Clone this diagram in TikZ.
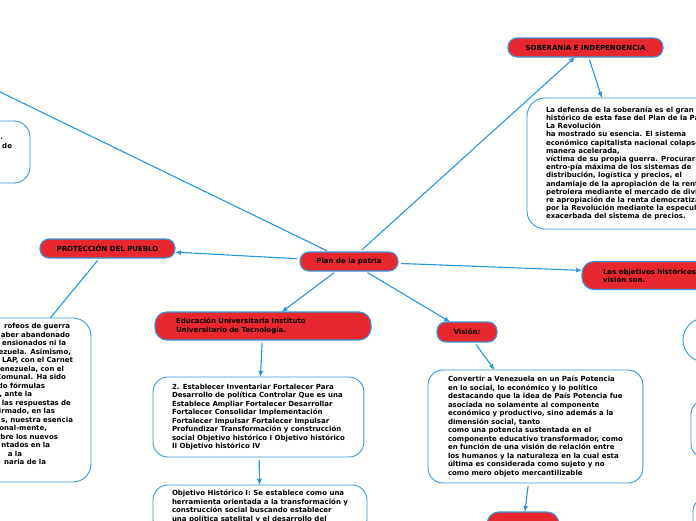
\documentclass[tikz,border=0pt]{standalone}
\usepackage{fontspec}
\setmainfont{DejaVu Sans}
\usetikzlibrary{arrows.meta}
\definecolor{rojo}{RGB}{233,39,47}
\definecolor{azul}{RGB}{52,152,219}
\definecolor{linea}{RGB}{40,150,222}
\newcommand{\gapr}[1]{\rule{#1}{0pt}}
\begin{document}
\begin{tikzpicture}[x=1pt,y=-1pt,
  txt/.style={font=\fontsize{7}{8.5}\selectfont\bfseries, text=black},
  red/.style={draw=azul, line width=1.1pt, fill=rojo, rounded corners=9pt, minimum height=19pt, inner sep=0pt, outer sep=0pt, txt},
  wbox/.style={draw=azul, line width=0.9pt, fill=white, rounded corners=15pt, outer sep=0pt, txt},
  arr/.style={draw=linea, line width=1.1pt, -{Latex[length=6pt,width=5pt]}, shorten <=3pt},
  ln/.style={draw=linea, line width=1.1pt, shorten <=3pt}]
\useasboundingbox (0,0) rectangle (696,520);
\fill[white] (0,0) rectangle (696,520);

% red nodes
\node[red, minimum width=98pt] (plan) at (349,261.5) {Plan de la patria};
\node[red, minimum width=155pt] (sob) at (585.5,47.5) {SOBERANÍA E INDEPENDENCIA};
\node[red, minimum width=135pt] (prot) at (107.5,248.5) {PROTECCIÓN DEL PUEBLO};
\node[red, minimum width=216pt, minimum height=28pt, rounded corners=12pt, text width=174pt, align=left] (edu) at (263,326) {Educación Universitaria Instituto\\Universitario de Tecnología.};
\node[red, minimum width=60pt, minimum height=20pt] (vis) at (467,332) {Visión:};
\node[red, minimum width=270pt, minimum height=28pt, rounded corners=12pt, text width=228pt, align=left, anchor=west] (los) at (582,275.5) {Los objetivos históricos\\visión son.};
\node[red, minimum width=72pt, minimum height=30pt, rounded corners=12pt] (bot) at (523,527) {};

% white boxes
\node[wbox, anchor=west, align=left, inner xsep=19pt, minimum height=131pt, rounded corners=18pt, font=\fontsize{7}{8.2}\selectfont\bfseries] (sobbox) at (527,163.5) {La defensa de la soberanía es el gran l\\histórico de esta fase del Plan de la Pa\\La Revolución\\ha mostrado su esencia. El sistema\\económico capitalista nacional colapsó\\manera acelerada,\\víctima de su propia guerra. Procurar\\entro-pía máxima de los sistemas de\\distribución, logística y precios, el\\andamiaje de la apropiación de la rent\\petrolera mediante el mercado de divi\\re apropiación de la renta democratiza\\por la Revolución mediante la especul\\exacerbada del sistema de precios.};

\node[wbox, anchor=west, align=left, inner xsep=19pt, minimum height=80pt] (obj2) at (153,417) {2. Establecer Inventariar Fortalecer Para\\Desarrollo de política Controlar Que es una\\Establece Ampliar Fortalecer Desarrollar\\Fortalecer Consolidar Implementación\\Fortalecer Impulsar Fortalecer Impulsar\\Profundizar Transformación y construcción\\social Objetivo histórico I Objetivo histórico\\II Objetivo histórico IV};

\node[wbox, anchor=north west, align=left, inner xsep=19pt, inner ysep=5pt] (obj1) at (153,485) {Objetivo Histórico I: Se establece como una\\herramienta orientada a la transformación y\\construcción social buscando establecer\\una política satelital y el desarrollo del\\\mbox{}};

\node[wbox, anchor=west, align=left, inner xsep=20pt, minimum height=113pt] (conv) at (428,426.5) {Convertir a Venezuela en un País Potencia\\en lo social, lo económico y lo político\\destacando que la idea de País Potencia fue\\asociada no solamente al componente\\económico y productivo, sino además a la\\dimensión social, tanto\\como una potencia sustentada en el\\componente educativo transformador, como\\en función de una visión de relación entre\\los humanos y la naturaleza en la cual esta\\última es considerada como sujeto y no\\como mero objeto mercantilizable};

\node[wbox, anchor=east, text width=180pt, align=right, inner xsep=18pt, minimum height=164pt, rounded corners=18pt] (pbox) at (91,400) {rofeos de guerra\gapr{3pt}\\aber abandonado\gapr{3pt}\\ensionados ni la\gapr{7pt}\\ezuela. Asimismo,\gapr{2pt}\\LAP, con el Carnet\\enezuela, con el\gapr{9pt}\\Comunal. Ha sido\gapr{7pt}\\do fórmulas\gapr{28pt}\\s, ante la\gapr{41pt}\\las respuestas de\gapr{2pt}\\irmado, en las\gapr{18pt}\\s, nuestra esencia\\onal-mente,\gapr{26pt}\\bre los nuevos\gapr{15pt}\\ntados en la\gapr{23pt}\\a la\gapr{51pt}\\naria de la\gapr{27pt}\\[3pt]\mbox{}};

\node[wbox, anchor=east, text width=100pt, align=right, inner xsep=18pt, minimum height=62pt, rounded corners=16pt] (tlbox) at (30,152) {.\gapr{9pt}\\de\\\mbox{}\\\mbox{}};

\node[wbox, anchor=west, minimum width=60pt, minimum height=44pt, rounded corners=22pt] (r1) at (683,340) {};
\node[wbox, anchor=west, minimum width=60pt, minimum height=58pt, rounded corners=14pt] (r2) at (691,429) {};
\node[wbox, anchor=north west, minimum width=60pt, minimum height=60pt, rounded corners=14pt] (r3) at (693,497) {};

\coordinate (tl) at (-60,62.8);

% connectors
\draw[arr] (plan) -- (sob);
\draw[arr] (sob) -- (sobbox);
\draw[ln] (plan) -- (tl);
\draw[arr] (plan) -- (prot);
\draw[ln] (prot) -- (pbox);
\draw[arr] (plan) -- (edu);
\draw[arr] (edu) -- (obj2);
\draw[arr] (obj2) -- (obj1);
\draw[arr] (plan) -- (vis);
\draw[arr] (vis) -- (conv);
\draw[arr] (conv) -- (bot);
\draw[arr] (plan) -- (los);
\end{tikzpicture}
\end{document}
